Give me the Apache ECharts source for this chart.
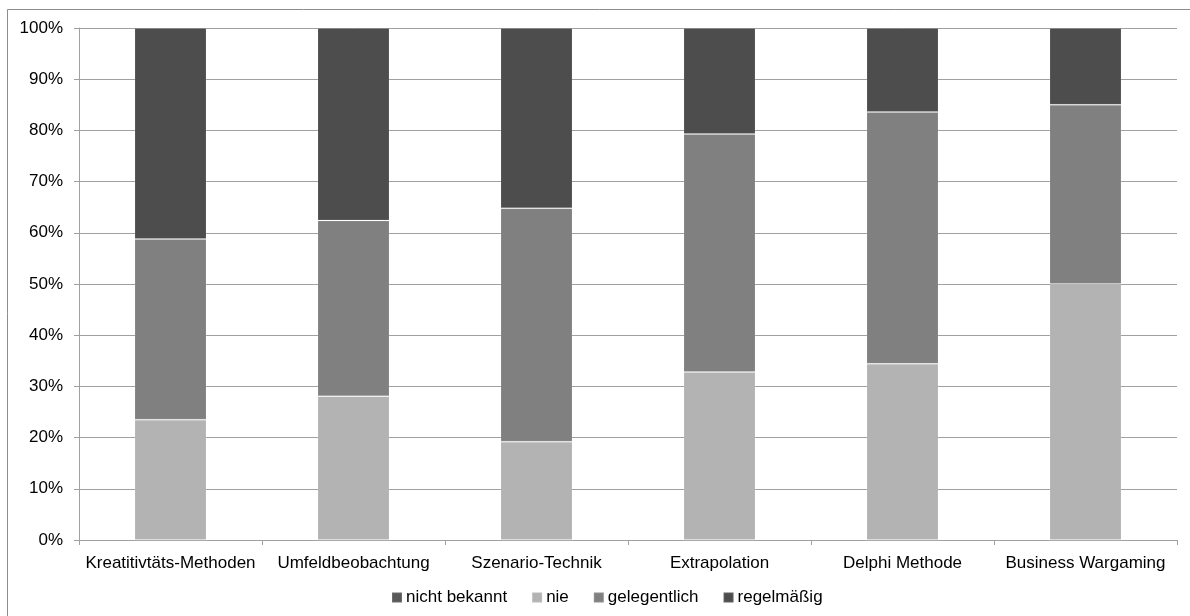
<!DOCTYPE html>
<html>
<head>
<meta charset="utf-8">
<script src="https://cdn.jsdelivr.net/npm/echarts@6/dist/echarts.min.js"></script>
<style>
  html, body { margin: 0; padding: 0; background: #fff; }
  #chart { width: 1190px; height: 616px; }
</style>
</head>
<body>
<div id="chart"></div>
<script>
// Methods surveyed
const categories = ['Kreatitivtäts-Methoden', 'Umfeldbeobachtung', 'Szenario-Technik', 'Extrapolation', 'Delphi Methode', 'Business Wargaming'];
// Share of answers per method (percent)
const nichtBekannt = [0, 0, 0, 0, 0, 0];
const nie = [23.5, 28.1, 19.2, 32.8, 34.4, 50.0];
const gelegentlich = [35.3, 34.3, 45.6, 46.5, 49.2, 35.0];
const regelmaessig = [41.2, 37.6, 35.2, 20.7, 16.4, 15.0];
const yTicks = [0, 10, 20, 30, 40, 50, 60, 70, 80, 90, 100];

const FONT = 'Liberation Sans, Arial, sans-serif';

function makeSeries(name, data, color) {
  return {
    name: name,
    type: 'bar',
    stack: 'total',
    data: data,
    barWidth: 72,
    itemStyle: { color: color, borderColor: 'rgba(255,255,255,0.12)', borderWidth: 1 },
    emphasis: { disabled: true }
  };
}

const chart = echarts.init(document.getElementById('chart'), null, { renderer: 'canvas' });
chart.setOption({
  animation: false,
  backgroundColor: '#fff',
  textStyle: { fontFamily: FONT },
  graphic: [{
    type: 'rect',
    shape: { x: 7.5, y: 9.5, width: 1300, height: 700 },
    style: { fill: 'none', stroke: '#8c8c8c', lineWidth: 1 },
    silent: true
  }],
  legend: {
    bottom: 5,
    left: 386,
    itemWidth: 10,
    itemHeight: 10,
    itemGap: 24,
    icon: 'rect',
    textStyle: { fontSize: 17, color: '#000', fontFamily: FONT, padding: [0, 0, 0, -1] },
    data: ['nicht bekannt', 'nie', 'gelegentlich', 'regelmäßig']
  },
  grid: { left: 79, right: 13, top: 28, bottom: 76, containLabel: false },
  xAxis: {
    type: 'category',
    data: categories,
    axisLine: { lineStyle: { color: '#a0a0a0', width: 1 } },
    axisTick: { show: true, alignWithLabel: false, length: 5, lineStyle: { color: '#a0a0a0' } },
    axisLabel: { color: '#000', fontSize: 17, fontFamily: FONT, margin: 15, interval: 0 }
  },
  yAxis: {
    type: 'value',
    min: 0,
    max: 100,
    interval: 10,
    axisLine: { show: true, lineStyle: { color: '#a0a0a0', width: 1 } },
    axisTick: { show: true, length: 5, lineStyle: { color: '#a0a0a0' } },
    axisLabel: {
      color: '#000', fontSize: 17, fontFamily: FONT, margin: 16,
      formatter: v => (yTicks.includes(v) ? v + '%' : '')
    },
    splitLine: { show: true, lineStyle: { color: '#a0a0a0', width: 1 } }
  },
  series: [
    makeSeries('nicht bekannt', nichtBekannt, '#595959'),
    makeSeries('nie', nie, '#b3b3b3'),
    makeSeries('gelegentlich', gelegentlich, '#808080'),
    makeSeries('regelmäßig', regelmaessig, '#4d4d4d')
  ]
});
</script>
</body>
</html>
